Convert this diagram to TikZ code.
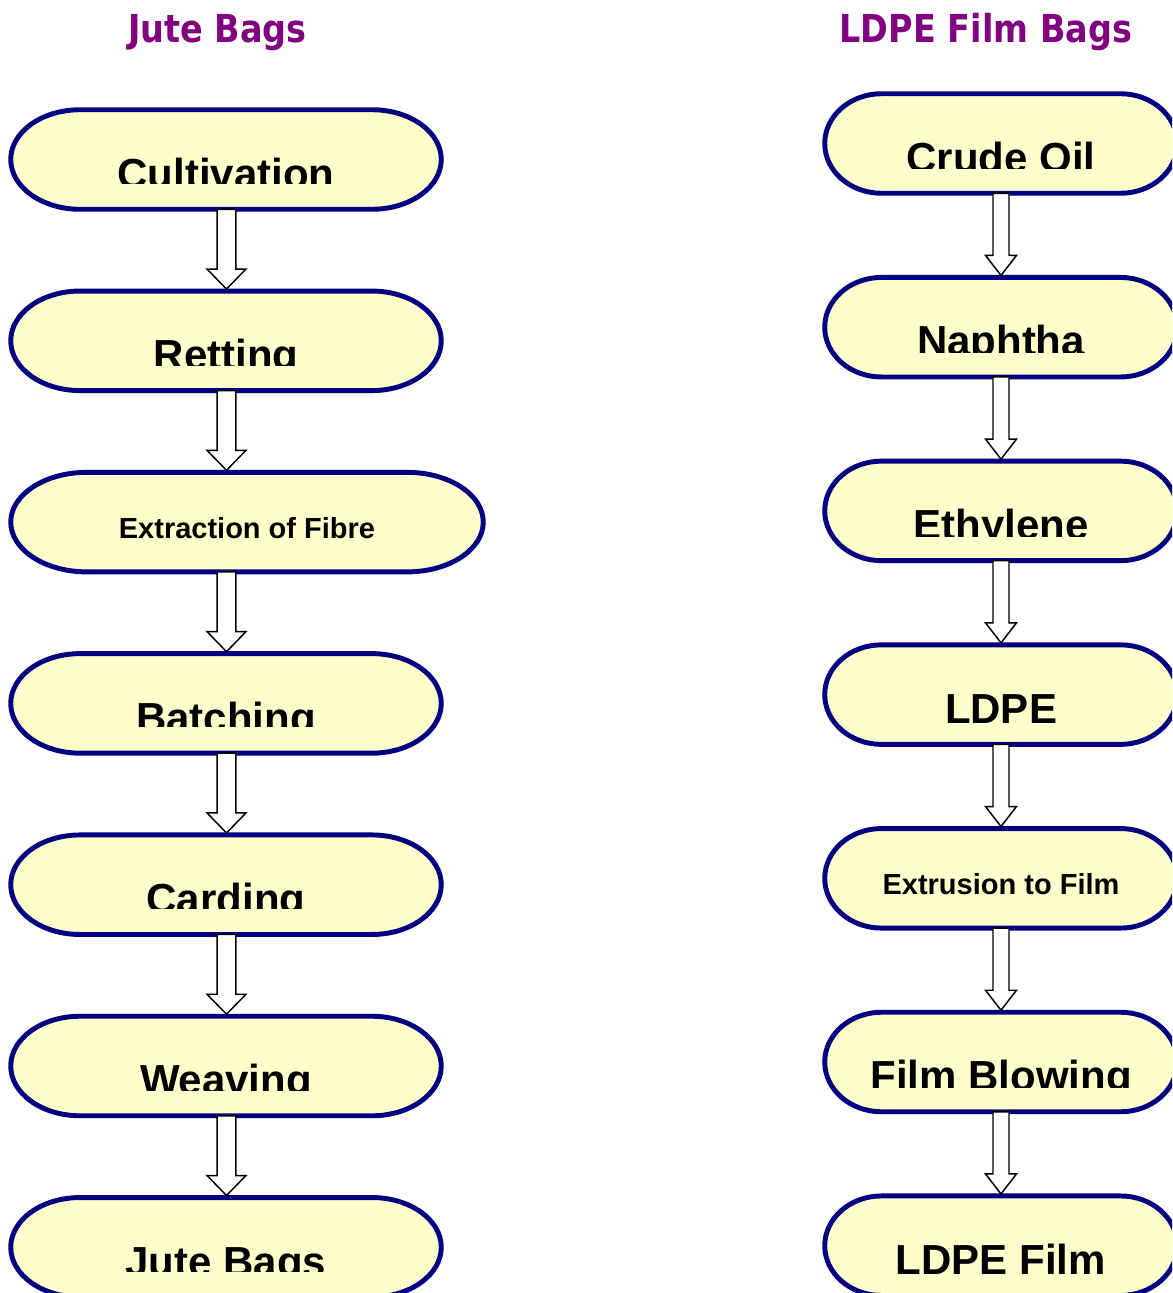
\documentclass[tikz,border=0pt]{standalone}
\usepackage{graphicx}
\usepackage{fontspec}
\setmainfont{Liberation Sans}
\newfontfamily\titlefont{DejaVu Sans}
\usetikzlibrary{calc}
\definecolor{termfill}{HTML}{FFFFCC}
\definecolor{termline}{HTML}{000080}
\definecolor{titlepurple}{HTML}{800080}
\tikzset{
  stageL/.style={rectangle, draw=none, inner sep=0pt, minimum width=322.5pt, minimum height=74.25pt},
  stageW/.style={rectangle, draw=none, inner sep=0pt, minimum width=354pt, minimum height=74.25pt},
  stageR/.style={rectangle, draw=none, inner sep=0pt, minimum width=264pt, minimum height=74.25pt},
  termstyle/.style={draw=termline, fill=termfill, line width=3.7pt},
  arrowstyle/.style={draw=black, fill=white, line width=1.1pt, line join=miter},
  biglabel/.style={inner sep=0pt, font=\fontsize{31.5}{36}\selectfont\bfseries},
  smalllabel/.style={inner sep=0pt, font=\fontsize{21.75}{26}\selectfont\bfseries},
  titlestyle/.style={inner sep=0pt, text=titlepurple, font=\titlefont\fontsize{25.1}{30}\selectfont\bfseries}
}
\newcommand\termshape[1]{%
  \path[termstyle] let \p1=(#1.north west), \p2=(#1.south east),
     \n1={0.161*(\x2-\x1)}, \n2={(\y1-\y2)/2} in
     (\x1+\n1,\y1) -- (\x2-\n1,\y1)
     arc[start angle=90, end angle=-90, x radius={\n1*1pt}, y radius={\n2*1pt}]
     -- (\x1+\n1,\y2)
     arc[start angle=270, end angle=90, x radius={\n1*1pt}, y radius={\n2*1pt}]
     -- cycle;}
% #1 node, #2 label name, #3 clip depth below node top, #4 text
\newcommand\bigstep[4]{%
  \begin{scope}
    \clip ($(#1.north west)+(-10,10)$) rectangle ($(#1.north east)+(10,-#3)$);
    \node[biglabel, anchor=base] (#2) at ($(#1.north)+(0,-78.5)$) {#4};
  \end{scope}}
\newcommand\smallstep[3]{%
  \node[smalllabel, anchor=base] (#2) at ($(#1.north)+(0,-66)$) {#3};}
\newcommand\blockarrow[5]{%
  \path[arrowstyle] let \p1=(#1.south -| #3), \p2=(#2.north -| #3) in
    (\x1-#4,\y1) -- (\x1+#4,\y1) -- (\x1+#4,\y2+16.5pt) -- (\x1+#5,\y2+16.5pt)
    -- (\x1,\y2+1.5pt) -- (\x1-#5,\y2+16.5pt) -- (\x1-#4,\y2+16.5pt) -- cycle;}
\begin{document}
\begin{tikzpicture}[x=0.75pt, y=0.75pt]
\clip (0,0) rectangle (1172,-1293);
\useasboundingbox (0,0) rectangle (1172,-1293);
\coordinate (colL) at (226.5,0);
\coordinate (colR) at (1001,0);
% titles
\node[titlestyle, anchor=base] (titleL) at (217.5,-42.7) {\scalebox{1}[1.15]{Jute Bags}};
\node[titlestyle, anchor=base] (titleR) at (985.8,-42.7) {\scalebox{1}[1.15]{LDPE Film Bags}};
% left column
\node[stageL] (l1) at (226,-159.5) {};
\node[stageL] (l2) at (226,-340.8) {};
\node[stageW] (l3) at (247,-522.1) {};
\node[stageL] (l4) at (226,-703.4) {};
\node[stageL] (l5) at (226,-884.7) {};
\node[stageL] (l6) at (226,-1066) {};
\node[stageL] (l7) at (226,-1247.3) {};
% right column
\node[stageR] (r1) at (1001,-143.5) {};
\node[stageR] (r2) at (1001,-327.2) {};
\node[stageR] (r3) at (1001,-510.9) {};
\node[stageR] (r4) at (1001,-694.6) {};
\node[stageR] (r5) at (1001,-878.3) {};
\node[stageR] (r6) at (1001,-1062) {};
\node[stageR] (r7) at (1001,-1245.7) {};
\foreach \nm in {l1,l2,l3,l4,l5,l6,l7,r1,r2,r3,r4,r5,r6,r7}{\termshape{\nm}}
% labels
\bigstep{l1}{l1t}{74}{Cultivation}
\bigstep{l2}{l2t}{74}{Retting}
\smallstep{l3}{l3t}{Extraction of Fibre}
\bigstep{l4}{l4t}{72.5}{Batching}
\bigstep{l5}{l5t}{74}{Carding}
\bigstep{l6}{l6t}{74}{Weaving}
\bigstep{l7}{l7t}{74}{Jute Bags}
\bigstep{r1}{r1t}{75}{Crude Oil}
\bigstep{r2}{r2t}{75}{Naphtha}
\bigstep{r3}{r3t}{75}{Ethylene}
\bigstep{r4}{r4t}{79}{LDPE}
\smallstep{r5}{r5t}{Extrusion to Film}
\bigstep{r6}{r6t}{75}{Film Blowing}
\bigstep{r7}{r7t}{79.5}{LDPE Film}
% arrows
\blockarrow{l1}{l2}{colL}{7.1pt}{14.6pt}
\blockarrow{l2}{l3}{colL}{7.1pt}{14.6pt}
\blockarrow{l3}{l4}{colL}{7.1pt}{14.6pt}
\blockarrow{l4}{l5}{colL}{7.1pt}{14.6pt}
\blockarrow{l5}{l6}{colL}{7.1pt}{14.6pt}
\blockarrow{l6}{l7}{colL}{7.1pt}{14.6pt}
\blockarrow{r1}{r2}{colR}{6pt}{11.6pt}
\blockarrow{r2}{r3}{colR}{6pt}{11.6pt}
\blockarrow{r3}{r4}{colR}{6pt}{11.6pt}
\blockarrow{r4}{r5}{colR}{6pt}{11.6pt}
\blockarrow{r5}{r6}{colR}{6pt}{11.6pt}
\blockarrow{r6}{r7}{colR}{6pt}{11.6pt}
\end{tikzpicture}
\end{document}
